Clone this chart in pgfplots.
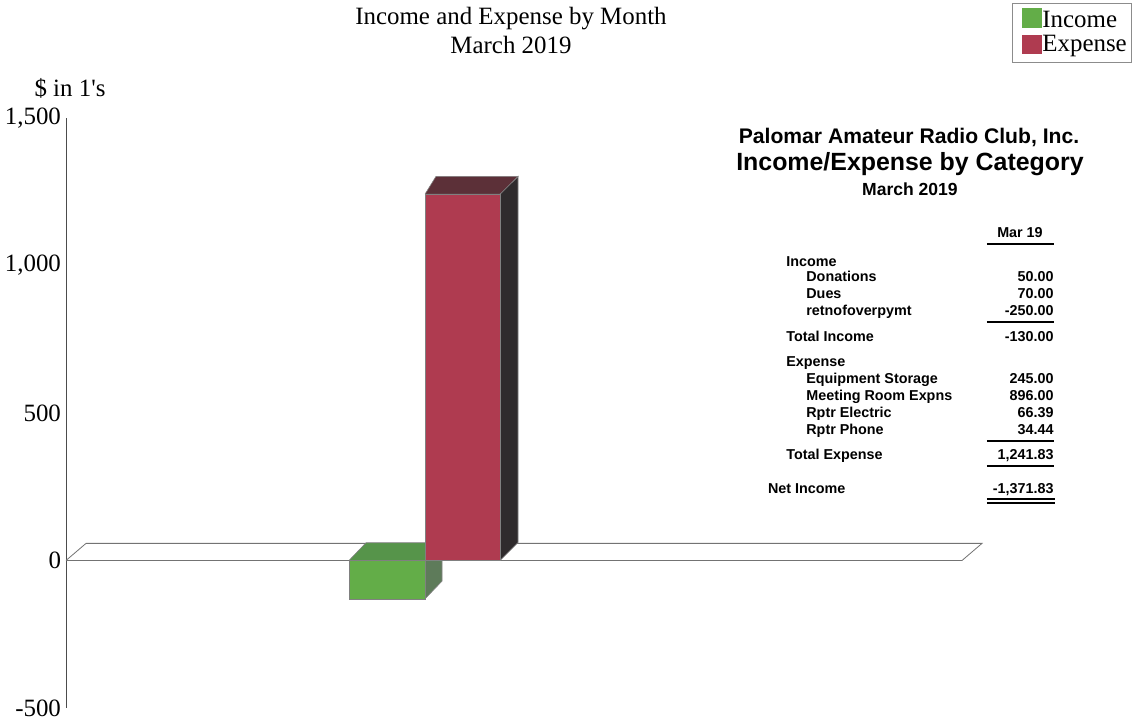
\documentclass[border=0pt]{standalone}
\usepackage{fontspec}
\setmainfont{Liberation Serif}
\setsansfont{Liberation Sans}
\usepackage{pgfplots}
\pgfplotsset{compat=1.18}

\definecolor{incfront}{HTML}{63AD48}
\definecolor{inctop}{HTML}{56944A}
\definecolor{incside}{HTML}{5E7B5A}
\definecolor{expfront}{HTML}{AF3B50}
\definecolor{exptop}{HTML}{5C3038}
\definecolor{expside}{HTML}{2F2B2D}

\newcommand{\tb}{\sffamily\bfseries\fontsize{7.2}{8.5}\selectfont}
\newcommand{\tm}{\fontsize{12.5}{14}\selectfont}

\begin{document}
\begin{tikzpicture}
\path[use as bounding box] (-33bp,-8.5bp) rectangle (535bp,354bp);
\begin{axis}[
    at={(0,0)}, anchor=south west,
    scale only axis,
    width=462bp, height=295bp,
    xmin=66, xmax=990,
    ymin=-500, ymax=1500,
    axis x line=none,
    axis y line=left,
    y axis line style={-, draw=black!70, line width=0.5pt},
    ytick={-500,0,500,1000,1500},
    major tick length=0pt,
    yticklabel style={font=\tm, /pgf/number format/assume math mode=true,
      /pgf/number format/1000 sep={,}, xshift=1pt},
    clip=false,
  ]
  % floor at zero
  \addplot[draw=black!55, fill=white, line width=0.4pt] coordinates {
    (66,0) (962,0) (982,58) (86,58) (66,0)
  };
  % Income: -130
  \addplot[draw=black!50, fill=inctop, line width=0.3pt] coordinates {
    (349,0) (425,0) (442,60) (366,60) (349,0)
  };
  \addplot[draw=black!50, fill=incside, line width=0.3pt] coordinates {
    (425,0) (442,60) (442,-70) (425,-130) (425,0)
  };
  \addplot[ybar, bar width=76, bar shift=0, draw=black!50, fill=incfront, line width=0.3pt]
    coordinates {(387,-130)};
  % Expense: 1241.83
  \addplot[draw=black!50, fill=expside, line width=0.3pt] coordinates {
    (500,0) (518,61) (518,1302) (500,1241.83) (500,0)
  };
  \addplot[draw=black!50, fill=exptop, line width=0.3pt] coordinates {
    (425,1241.83) (500,1241.83) (518,1302) (436,1302) (425,1241.83)
  };
  \addplot[ybar, bar width=75, bar shift=0, draw=black!50, fill=expfront, line width=0.3pt]
    coordinates {(462.5,1241.83)};
\end{axis}

\begin{scope}[x=0.5bp, y=-0.5bp, shift={(-33bp,354bp)}]
  % title
  \node[font=\tm] at (511,19) {Income and Expense by Month};
  \node[font=\tm] at (511,45) {March 2019};
  \node[font=\tm] at (70,88) {\$ in 1\textquotesingle s};
  % legend
  \draw[black!45, line width=0.4pt] (1012,3) rectangle (1131,62);
  \fill[incfront] (1022,8) rectangle (1042,28);
  \fill[expfront] (1022,35) rectangle (1042,54);
  \node[font=\tm, anchor=west, inner sep=0pt] at (1042,19) {Income};
  \node[font=\tm, anchor=west, inner sep=0pt] at (1042,46) {Expense};
  % report table
  \node[font=\sffamily\bfseries\fontsize{10.6}{12}\selectfont] at (909,137) {Palomar Amateur Radio Club, Inc.};
  \node[font=\sffamily\bfseries\fontsize{12.5}{14}\selectfont] at (910,164) {Income/Expense by Category};
  \node[font=\sffamily\bfseries\fontsize{8.8}{10}\selectfont] at (910,189) {March 2019};
  \node[font=\tb, anchor=base] at (1020,238) {Mar 19};
  \draw[line width=0.6pt] (987,244) -- (1054,244);
  \foreach \lab/\xx/\yy in {Income/786/261.7, Donations/806/276.7, Dues/806/294,
      retnofoverpymt/806/311, Total Income/786/336.7, Expense/786/362,
      Equipment Storage/806/378.7, Meeting Room Expns/806/395.7,
      Rptr Electric/806/412.7, Rptr Phone/806/430, Total Expense/786/455,
      Net Income/767.7/489}
    \node[font=\tb, anchor=base west, inner sep=0pt] at (\xx,\yy+5) {\lab};
  \foreach \val/\yy in {50.00/276.7, 70.00/294, -250.00/311, -130.00/336.7,
      245.00/378.7, 896.00/395.7, 66.39/412.7, 34.44/430, {1,241.83}/455,
      {-1,371.83}/489}
    \node[font=\tb, anchor=base east, inner sep=0pt] at (1054,\yy+5) {\val};
  \draw[line width=0.6pt] (987,322) -- (1054,322);
  \draw[line width=0.6pt] (987,441) -- (1054,441);
  \draw[line width=0.6pt] (987,466) -- (1054,466);
  \draw[line width=0.6pt] (987,499) -- (1055,499);
  \draw[line width=0.6pt] (987,503) -- (1055,503);
\end{scope}
\end{tikzpicture}
\end{document}
